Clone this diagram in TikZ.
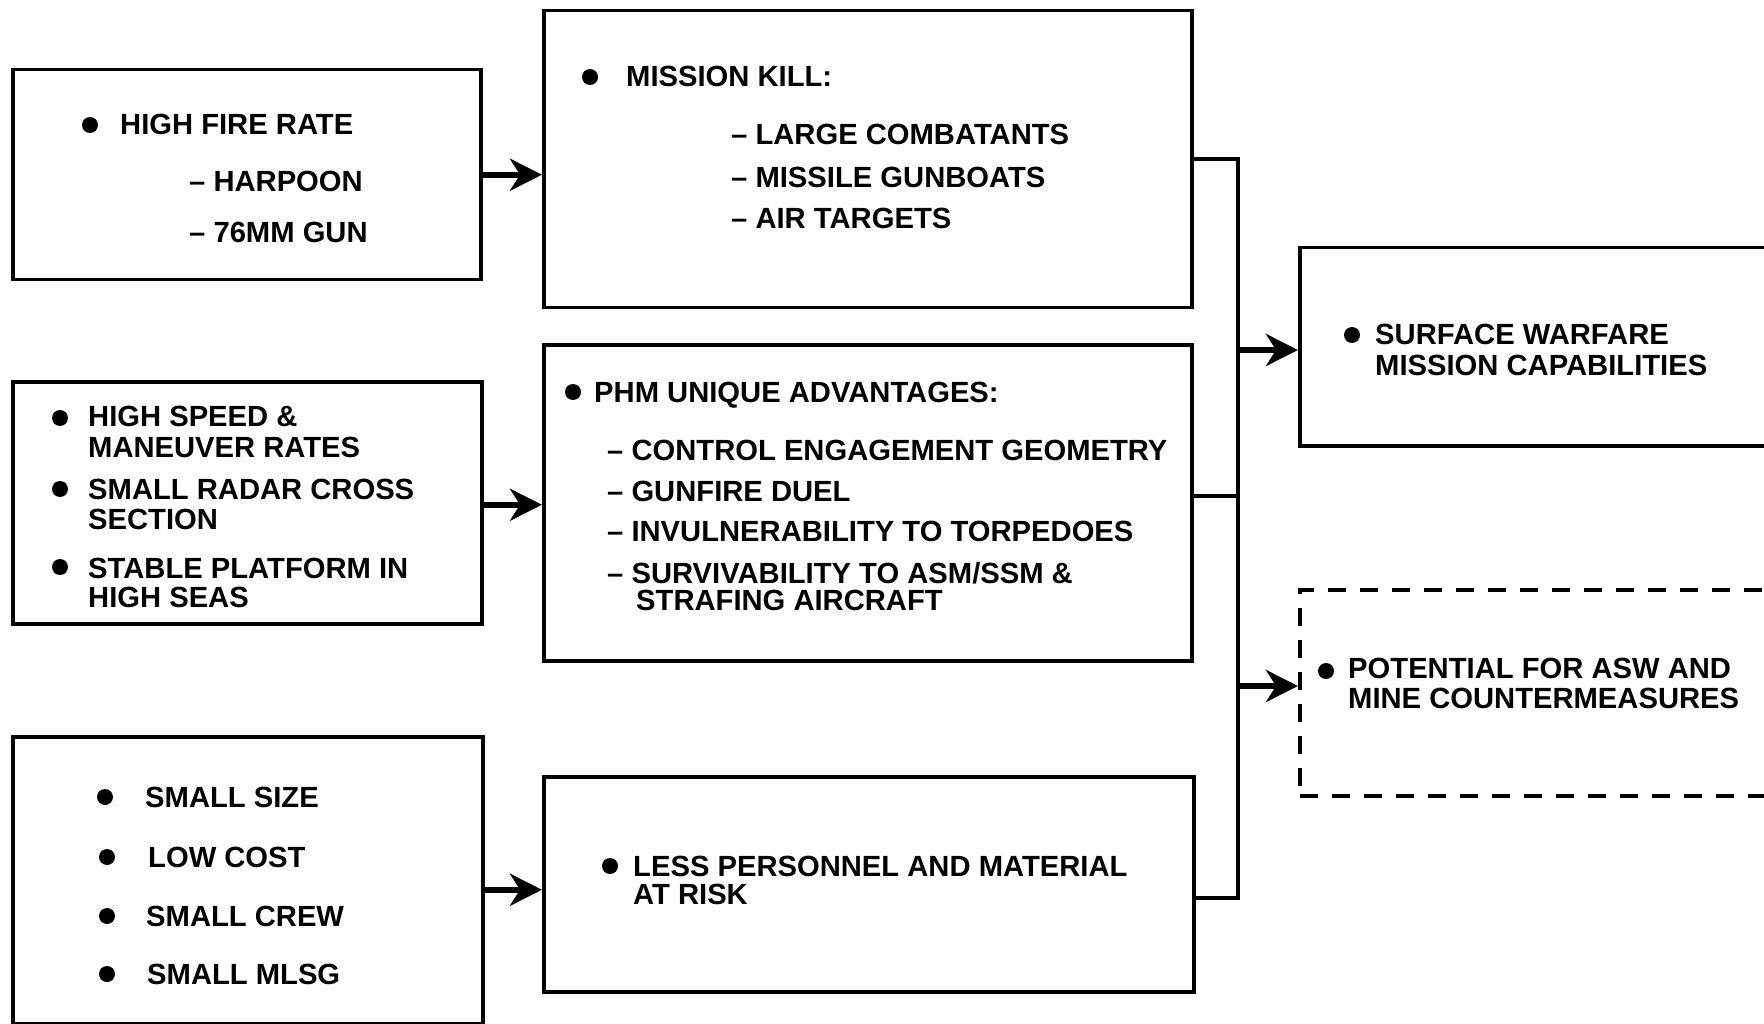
\documentclass[tikz,border=0pt]{standalone}
\usepackage{fontspec}
\setmainfont{Liberation Sans}
\usetikzlibrary{arrows.meta}
\begin{document}
\begin{tikzpicture}[x=1pt,y=-1pt,
  box/.style={draw, line width=3.5pt, inner sep=0, anchor=north west},
  dbox/.style={box, dash pattern=on 18pt off 14pt},
  txt/.style={anchor=base west, inner sep=0, font=\bfseries\fontsize{29.2}{30}\selectfont},
  bul/.style={circle, fill, inner sep=0, minimum size=16pt},
  arr/.style={line width=6pt, -{Stealth[length=32pt,width=32pt,inset=10pt]}},
  link/.style={line width=4pt}]
\useasboundingbox (0,0) rectangle (1764,1024);
\fill[white] (0,0) rectangle (1764,1024);

% boxes
\node[box, minimum width=468pt, minimum height=210pt] (a1) at (11,68) {};
\node[box, minimum width=469pt, minimum height=242pt] (a2) at (11,380) {};
\node[box, minimum width=470pt, minimum height=287pt] (a3) at (11,735) {};
\node[box, minimum width=648pt, minimum height=297pt] (b1) at (542,9) {};
\node[box, minimum width=648pt, minimum height=316pt] (b2) at (542,343) {};
\node[box, minimum width=650pt, minimum height=215pt] (b3) at (542,775) {};
\node[box, minimum width=467pt, minimum height=198pt] (c1) at (1298,246) {};
\node[dbox, minimum width=480pt, minimum height=206pt] (c2) at (1298,588) {};

% arrows A -> B
\draw[arr] (a1.east) -- (a1.east -| b1.west);
\draw[arr] ([yshift=-2pt]a2.east) -- ([yshift=-2pt]a2.east -| b2.west);
\draw[arr] ([yshift=-9.5pt]a3.east) -- ([yshift=-9.5pt]a3.east -| b3.west);

% bus
\coordinate (bus1) at (1238,159);
\coordinate (bus2) at (1238,496);
\coordinate (bus3) at (1238,898);
\coordinate (busc1) at (1238,350);
\coordinate (busc2) at (1238,686);
\draw[link] (b1.east |- bus1) -- (bus1) -- (bus3) -- (b3.east |- bus3);
\draw[link] (b2.east |- bus2) -- (bus2);
\draw[arr] (busc1) -- (busc1 -| c1.west);
\draw[arr] (busc2) -- (busc2 -| c2.west);

% A1
\node[bul] (a1b1) at (90,125) {};
\node[txt] (a1t1) at (120,135) {HIGH FIRE RATE};
\node[txt] (a1t2) at (189,192) {– HARPOON};
\node[txt] (a1t3) at (189,243) {– 76MM GUN};

% A2
\node[bul] (a2b1) at (60,418) {};
\node[txt] (a2t1) at (88,426) {HIGH SPEED \&};
\node[txt] (a2t2) at (88,457) {MANEUVER RATES};
\node[bul] (a2b2) at (60,489) {};
\node[txt] (a2t3) at (88,499) {SMALL RADAR CROSS};
\node[txt] (a2t4) at (88,529) {SECTION};
\node[bul] (a2b3) at (60,567) {};
\node[txt] (a2t5) at (88,578) {STABLE PLATFORM IN};
\node[txt] (a2t6) at (88,607) {HIGH SEAS};

% A3
\node[bul] (a3b1) at (105,797) {};
\node[txt] (a3t1) at (145,807) {SMALL SIZE};
\node[bul] (a3b2) at (107,857) {};
\node[txt] (a3t2) at (148,867) {LOW COST};
\node[bul] (a3b3) at (107,916) {};
\node[txt] (a3t3) at (146,926) {SMALL CREW};
\node[bul] (a3b4) at (107,974) {};
\node[txt] (a3t4) at (147,984) {SMALL MLSG};

% B1
\node[bul] (b1b1) at (590,77) {};
\node[txt] (b1t1) at (626,87) {MISSION KILL:};
\node[txt] (b1t2) at (731,145) {– LARGE COMBATANTS};
\node[txt] (b1t3) at (731,188) {– MISSILE GUNBOATS};
\node[txt] (b1t4) at (731,229) {– AIR TARGETS};

% B2
\node[bul] (b2b1) at (573,392) {};
\node[txt] (b2t1) at (594,402) {PHM UNIQUE ADVANTAGES:};
\node[txt] (b2t2) at (607,460) {– CONTROL ENGAGEMENT GEOMETRY};
\node[txt] (b2t3) at (607,501) {– GUNFIRE DUEL};
\node[txt] (b2t4) at (607,541) {– INVULNERABILITY TO TORPEDOES};
\node[txt] (b2t5) at (607,583) {– SURVIVABILITY TO ASM/SSM \&};
\node[txt] (b2t6) at (636,610) {STRAFING AIRCRAFT};

% B3
\node[bul] (b3b1) at (610,866) {};
\node[txt] (b3t1) at (633,876) {LESS PERSONNEL AND MATERIAL};
\node[txt] (b3t2) at (633,904) {AT RISK};

% C1
\node[bul] (c1b1) at (1352,335) {};
\node[txt] (c1t1) at (1375,344) {SURFACE WARFARE};
\node[txt] (c1t2) at (1375,375) {MISSION CAPABILITIES};

% C2
\node[bul] (c2b1) at (1326,671) {};
\node[txt] (c2t1) at (1348,678) {POTENTIAL FOR ASW AND};
\node[txt] (c2t2) at (1348,708) {MINE COUNTERMEASURES};
\end{tikzpicture}
\end{document}
